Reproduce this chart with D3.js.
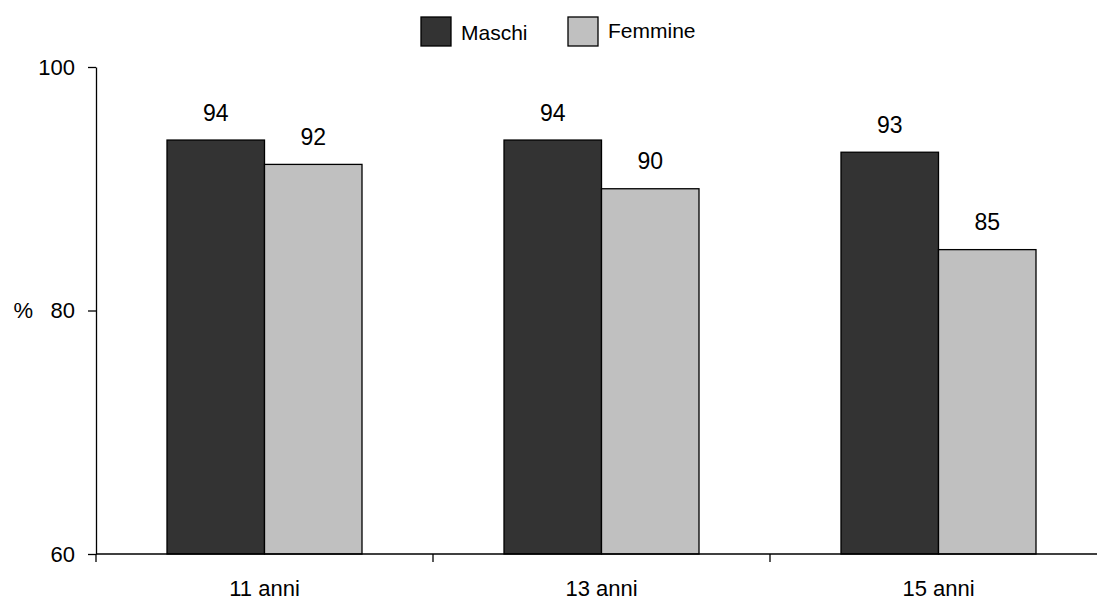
<!DOCTYPE html>
<html><head><meta charset="utf-8">
<script src="https://cdn.jsdelivr.net/npm/d3@7"></script>
<style>body{margin:0;background:#fff}svg{display:block;font-family:Arial,"Liberation Sans",sans-serif}</style>
</head><body><svg id="c" width="1097" height="601"></svg>
<script>
const categories = ["11 anni", "13 anni", "15 anni"];
const seriesNames = ["Maschi", "Femmine"];
const maschi = [94, 94, 93];
const femmine = [92, 90, 85];
const yTicks = [60, 80, 100];
const colors = ["#333333", "#c0c0c0"];

const svg = d3.select("#c");
const mLeft = 96, mRight = 1107, mTop = 67, mBottom = 554;
const x = d3.scaleBand().domain(categories).range([mLeft, mRight]).paddingInner(0).paddingOuter(0);
const y = d3.scaleLinear().domain([60, 100]).range([mBottom, mTop]);
const inner = d3.scaleBand().domain(seriesNames).range([71, 71 + 195]);
const data = categories.map((c, i) => ({cat: c, vals: [maschi[i], femmine[i]]}));

// bars
const g = svg.append("g");
data.forEach(d => {
  d.vals.forEach((v, j) => {
    g.append("rect")
      .attr("x", x(d.cat) + inner(seriesNames[j]))
      .attr("y", y(v))
      .attr("width", inner.bandwidth())
      .attr("height", y(60) - y(v))
      .attr("fill", colors[j]).attr("stroke", "#000").attr("stroke-width", 1.3);
    g.append("text")
      .attr("x", x(d.cat) + inner(seriesNames[j]) + inner.bandwidth() / 2)
      .attr("y", y(v) - 19.5)
      .attr("text-anchor", "middle").attr("font-size", 23).attr("fill", "#000")
      .text(v);
  });
});

// y axis
const ya = svg.append("g").attr("transform", `translate(${mLeft},0)`)
  .call(d3.axisLeft(y).tickValues(yTicks).tickSize(8).tickPadding(13).tickSizeOuter(0));
ya.select(".domain").attr("stroke", "#000").attr("stroke-width", 1.3);
ya.selectAll(".tick line").attr("stroke", "#000").attr("stroke-width", 1.3);
ya.selectAll(".tick text").attr("font-size", 22).attr("font-family", "Arial, 'Liberation Sans', sans-serif").attr("fill", "#000");
svg.append("text").attr("x", 23.3).attr("y", y(80)).attr("dy", "0.35em")
  .attr("text-anchor", "middle").attr("font-size", 22).text("%");

// x axis
const xa = svg.append("g").attr("transform", `translate(0,${mBottom})`)
  .call(d3.axisBottom(x).tickSize(0).tickPadding(26.5));
xa.select(".domain").remove();
xa.append("line").attr("x1", mLeft).attr("x2", 1097).attr("y1", 0).attr("y2", 0).attr("stroke", "#000").attr("stroke-width", 1.3);
xa.selectAll(".tick text").attr("font-size", 22).attr("font-family", "Arial, 'Liberation Sans', sans-serif").attr("fill", "#000");
const bounds = categories.map(c => x(c)).concat([x(categories[categories.length - 1]) + x.bandwidth()]);
xa.selectAll(".sep").data(bounds).enter().append("line")
  .attr("x1", d => d).attr("x2", d => d).attr("y1", 0).attr("y2", 8)
  .attr("stroke", "#000").attr("stroke-width", 1.3);

// legend
const leg = svg.append("g");
const legX = [421, 568];
seriesNames.forEach((s, j) => {
  leg.append("rect").attr("x", legX[j]).attr("y", 17).attr("width", 30).attr("height", 29)
    .attr("fill", colors[j]).attr("stroke", "#000").attr("stroke-width", 1.3);
  leg.append("text").attr("x", legX[j] + 40).attr("y", j === 0 ? 33 : 31).attr("dy", "0.35em")
    .attr("font-size", 21).attr("fill", "#000").text(s);
});
</script></body></html>
